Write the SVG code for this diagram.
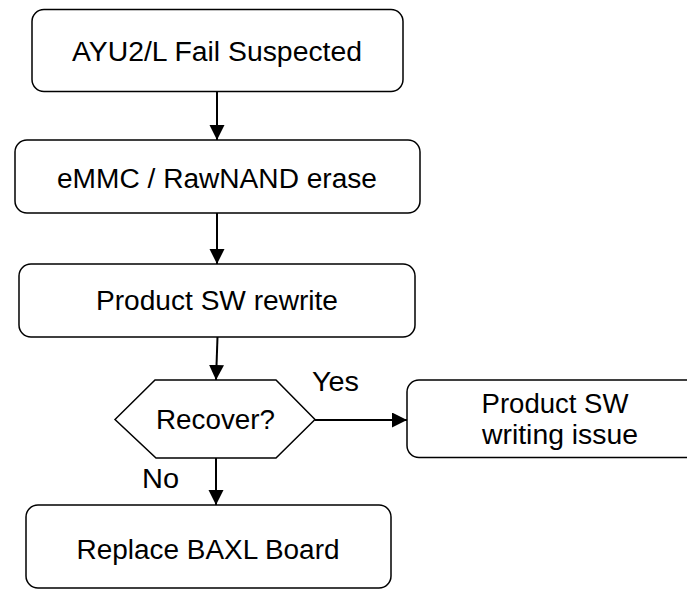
<svg xmlns="http://www.w3.org/2000/svg" width="687" height="590" viewBox="0 0 687 590">
<style>
.box{fill:#fff;stroke:#000;stroke-width:1.5}
.t{font-family:"Liberation Sans",Arial,sans-serif;font-size:27px;fill:#000;text-anchor:middle}
.c{fill:none;stroke:#000;stroke-width:2}
</style>
<defs>
<marker id="ah" markerUnits="userSpaceOnUse" markerWidth="16" markerHeight="16" refX="15" refY="7.5" orient="auto">
<path d="M0,0 L15,7.5 L0,15 Z" fill="#000"/>
</marker>
</defs>
<rect width="687" height="590" fill="#fff"/>
<g id="connectors">
<line class="c" x1="217" y1="92" x2="217" y2="140" marker-end="url(#ah)"/>
<line class="c" x1="217" y1="213" x2="217" y2="264" marker-end="url(#ah)"/>
<line class="c" x1="217.5" y1="337" x2="216" y2="380" marker-end="url(#ah)"/>
<line class="c" x1="315" y1="420" x2="407" y2="420" marker-end="url(#ah)"/>
<line class="c" x1="216" y1="458" x2="216" y2="505" marker-end="url(#ah)"/>
<text class="t" x="335.5" y="391" textLength="47" lengthAdjust="spacingAndGlyphs">Yes</text>
<text class="t" x="160.5" y="488" textLength="37" lengthAdjust="spacingAndGlyphs">No</text>
</g>
<g id="n1">
<rect class="box" x="32" y="9.5" width="371" height="82" rx="12"/>
<text class="t" x="217" y="61" textLength="290" lengthAdjust="spacingAndGlyphs">AYU2/L Fail Suspected</text>
</g>
<g id="n2">
<rect class="box" x="15" y="140" width="405" height="73" rx="12"/>
<text class="t" x="217" y="188" textLength="320" lengthAdjust="spacingAndGlyphs">eMMC / RawNAND erase</text>
</g>
<g id="n3">
<rect class="box" x="19" y="264" width="396" height="73" rx="12"/>
<text class="t" x="217" y="310" textLength="242" lengthAdjust="spacingAndGlyphs">Product SW rewrite</text>
</g>
<g id="n4">
<polygon class="box" points="115,419.5 155,380 276,380 315,419.5 276,458 156,458"/>
<text class="t" x="215.5" y="429" textLength="119" lengthAdjust="spacingAndGlyphs">Recover?</text>
</g>
<g id="n5">
<rect class="box" x="407" y="380" width="300" height="77.5" rx="12"/>
<text class="t" x="555" y="413" textLength="147" lengthAdjust="spacingAndGlyphs">Product SW</text>
<text class="t" x="560" y="444" textLength="156" lengthAdjust="spacingAndGlyphs">writing issue</text>
</g>
<g id="n6">
<rect class="box" x="26" y="505" width="365" height="83" rx="12"/>
<text class="t" x="208" y="559" textLength="263" lengthAdjust="spacingAndGlyphs">Replace BAXL Board</text>
</g>
</svg>
